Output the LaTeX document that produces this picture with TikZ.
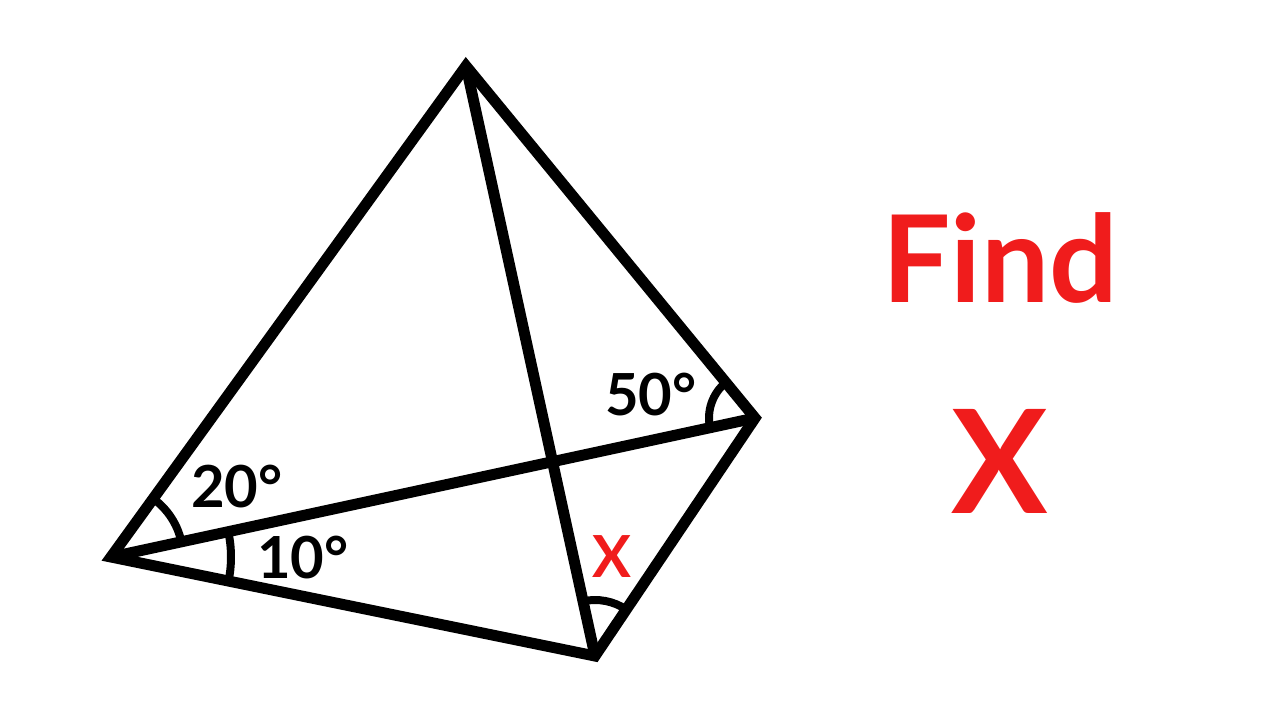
\documentclass[tikz,border=0pt]{standalone}
\usepackage{fontspec}
\setmainfont{Lato}
\usetikzlibrary{angles}
\definecolor{redx}{RGB}{240,28,28}
\tikzset{
  edge/.style={line width=11pt, line join=miter, miter limit=2},
  arcmark/.style={draw, line width=8pt},
  lbl/.style={inner sep=0pt, anchor=base, font=\bfseries\fontsize{58}{60}\selectfont}
}
\begin{document}
\begin{tikzpicture}[x=1pt,y=-1pt]
\useasboundingbox (0,0) rectangle (1280,720);
\coordinate (A) at (111,557);
\coordinate (T) at (466,66);
\coordinate (R) at (755,418);
\coordinate (B) at (595,656);
\draw[edge] (A) -- (T) -- (R) -- (B) -- cycle;
\draw[edge] (A) -- (R);
\draw[edge] (T) -- (B);
\pic[arcmark, angle radius=72pt] {angle = R--A--T};
\pic[arcmark, angle radius=120pt] {angle = B--A--R};
\pic[arcmark, angle radius=46pt] {angle = T--R--A};
\pic[arcmark, angle radius=56pt] {angle = R--B--T};
\node[lbl] (l20) at (237,507) {20°};
\node[lbl] (l10) at (303,578) {10°};
\node[lbl] (l50) at (651,415) {50°};
\node[lbl, text=redx] (lx) at (612,577) {X};
\node[inner sep=0pt, anchor=base, text=redx, font=\bfseries\fontsize{121}{125}\selectfont] (find) at (1000,302) {Find};
\node[inner sep=0pt, anchor=base, text=redx, font=\bfseries\fontsize{144}{150}\selectfont] (bigx) at (1000,513) {X};
\end{tikzpicture}
\end{document}
